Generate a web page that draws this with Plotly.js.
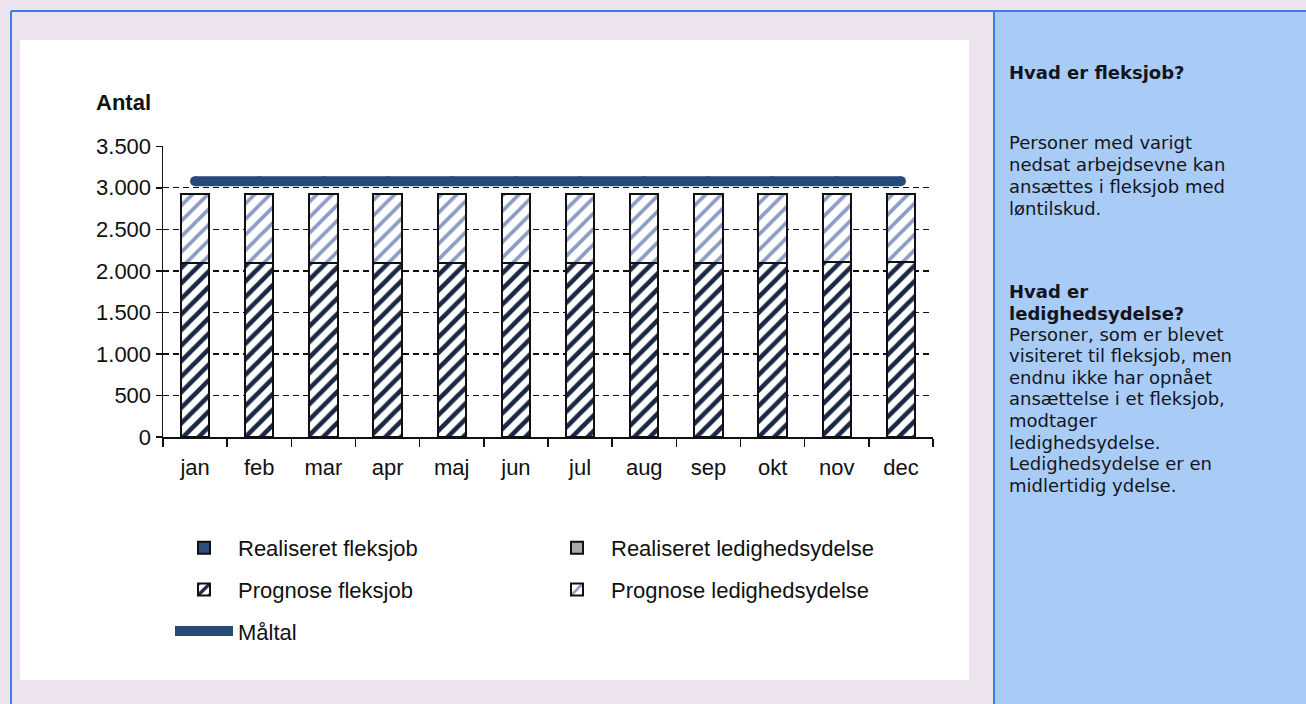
<!DOCTYPE html>
<html>
<head>
<meta charset="utf-8">
<script src="https://cdn.plot.ly/plotly-3.0.1.min.js"></script>
<style>
html,body{margin:0;padding:0;background:#ece3ee;}
#chart{width:1306px;height:704px;}
</style>
</head>
<body>
<div id="chart"></div>
<script>
// ---- data ----
const months = ["jan","feb","mar","apr","maj","jun","jul","aug","sep","okt","nov","dec"];
const realFleksjob = [null,null,null,null,null,null,null,null,null,null,null,null];
const realLedighed = [null,null,null,null,null,null,null,null,null,null,null,null];
const progFleksjob = [2090,2090,2090,2095,2095,2100,2100,2100,2100,2100,2105,2105];
const progLedighed = [835,835,835,830,830,825,825,825,825,825,820,820];
const maaltal = [3080,3080,3080,3080,3080,3080,3080,3080,3080,3080,3080,3080];
const yTicks = [0,500,1000,1500,2000,2500,3000,3500];
const yTickText = ["0","500","1.000","1.500","2.000","2.500","3.000","3.500"];

const heading1 = ["Hvad er fleksjob?"];
const body1 = ["Personer med varigt","nedsat arbejdsevne kan","ansættes i fleksjob med","løntilskud."];
const heading2 = ["Hvad er","ledighedsydelse?"];
const body2 = ["Personer, som er blevet","visiteret til fleksjob, men","endnu ikke har opnået","ansættelse i et fleksjob,","modtager","ledighedsydelse.","Ledighedsydelse er en","midlertidig ydelse."];

// ---- layout geometry helpers ----
const W = 1306, H = 704;
const M = {l:163, r:373, t:146, b:267};
const PW = W - M.l - M.r, PH = H - M.t - M.b;
const px = x => (x - M.l) / PW;
const py = y => (H - M.b - y) / PH;

const font = "Liberation Sans, Arial, sans-serif";
const panelFont = "DejaVu Sans, Verdana, sans-serif";

const traces = [
  {type:'bar', name:'Realiseret fleksjob', x:months, y:realFleksjob,
   marker:{color:'#2b4f7e', line:{color:'#111', width:2}}, legend:'legend', legendgroup:'a'},
  {type:'bar', name:'Realiseret ledighedsydelse', x:months, y:realLedighed,
   marker:{color:'#a9a9a9', line:{color:'#111', width:2}}, legend:'legend2', legendgroup:'b'},
  {type:'bar', name:'Prognose fleksjob', x:months, y:progFleksjob,
   marker:{color:'white', line:{color:'#111', width:2},
     pattern:{shape:'/', fgcolor:'#1b2745', bgcolor:'white', size:11, solidity:0.42}},
   legend:'legend', legendgroup:'c'},
  {type:'bar', name:'Prognose ledighedsydelse', x:months, y:progLedighed,
   marker:{color:'white', line:{color:'#111', width:2},
     pattern:{shape:'/', fgcolor:'#8c9cc4', bgcolor:'white', size:11, solidity:0.33}},
   legend:'legend2', legendgroup:'d'},
  {type:'scatter', mode:'lines+markers', name:'Måltal', x:months, y:maaltal,
   line:{color:'#284a79', width:10}, marker:{color:'#284a79', size:10},
   legend:'legend', legendgroup:'e'}
];

const legendCommon = {
  orientation:'v', bgcolor:'rgba(0,0,0,0)', borderwidth:0,
  font:{family:font, size:22, color:'#111'}, tracegroupgap:10,
  xanchor:'left', yanchor:'top', traceorder:'grouped', itemwidth:58
};

function lineAnns(lines, yStart, step, bold){
  return lines.map((t,i)=>({
    text: bold ? '<b>'+t+'</b>' : t, xref:'paper', yref:'paper',
    x:px(1007), y:py(yStart + i*step), xanchor:'left', yanchor:'middle', showarrow:false,
    font:{family:panelFont, size:18, color:'#14141e'}
  }));
}

const layout = {
  width:W, height:H,
  margin:M,
  paper_bgcolor:'#ece3ee',
  plot_bgcolor:'white',
  barmode:'stack',
  bargap:0.56,
  showlegend:true,
  xaxis:{
    type:'category', range:[-0.5, 11.5], showline:true, linecolor:'#111', linewidth:1.5,
    ticks:'outside', tickson:'boundaries', ticklen:8, tickcolor:'#111', tickwidth:1.5,
    ticklabelstandoff:10,
    tickfont:{family:font, size:22, color:'#111'}, showgrid:false, zeroline:false, fixedrange:true
  },
  yaxis:{
    range:[0,3503], tickvals:yTicks, ticktext:yTickText,
    showline:true, linecolor:'#111', linewidth:1.5,
    ticks:'outside', ticklen:6, tickcolor:'#111', tickwidth:1.5,
    tickfont:{family:font, size:22, color:'#111'},
    showgrid:true, gridcolor:'#111', gridwidth:1.4, griddash:'6px,4px', zeroline:false, fixedrange:true
  },
  legend: Object.assign({}, legendCommon, {x:px(170), y:py(527)}),
  legend2: Object.assign({}, legendCommon, {x:px(543), y:py(527)}),
  shapes:[
    {type:'rect', xref:'paper', yref:'paper', x0:px(20), x1:px(969), y0:py(40), y1:py(680),
     fillcolor:'white', line:{width:0}, layer:'below'},
    {type:'rect', xref:'paper', yref:'paper', x0:px(994), x1:px(1310), y0:py(11), y1:py(708),
     fillcolor:'#a8ccf5', line:{width:0}, layer:'below'},
    {type:'line', xref:'paper', yref:'paper', x0:px(11), x1:px(1310), y0:py(11), y1:py(11),
     line:{color:'#3d7fe0', width:2}, layer:'below'},
    {type:'line', xref:'paper', yref:'paper', x0:px(11), x1:px(11), y0:py(11), y1:py(708),
     line:{color:'#3d7fe0', width:2}, layer:'below'},
    {type:'line', xref:'paper', yref:'paper', x0:px(994), x1:px(994), y0:py(11), y1:py(708),
     line:{color:'#3d7fe0', width:2}, layer:'below'}
  ],
  annotations:[
    {text:'<b>Antal</b>', xref:'paper', yref:'paper', x:px(94), y:py(102), xanchor:'left', yanchor:'middle',
     showarrow:false, font:{family:font, size:22, color:'#111'}}
  ].concat(lineAnns(heading1, 72, 22, true))
   .concat(lineAnns(body1, 142, 22, false))
   .concat(lineAnns(heading2, 291, 22, true))
   .concat(lineAnns(body2, 334, 21.6, false))
};

Plotly.newPlot('chart', traces, layout, {displayModeBar:false, staticPlot:true});
</script>
</body>
</html>
